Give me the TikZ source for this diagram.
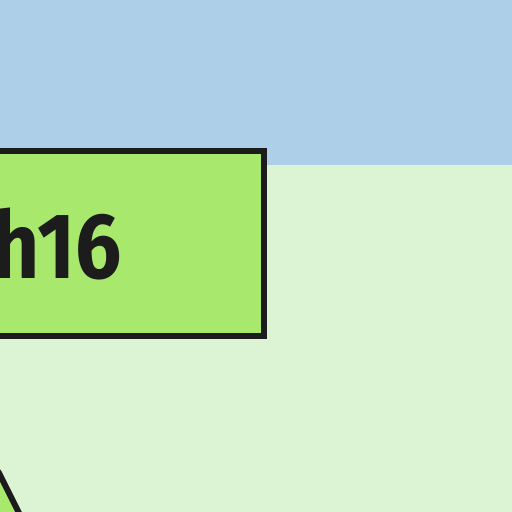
\documentclass[tikz,border=0pt]{standalone}
\usepackage{fontspec}
\newfontfamily\labelfont[FakeStretch=0.88]{Fira Sans}
\definecolor{skyband}{HTML}{AECFE8}
\definecolor{paleground}{HTML}{DCF4D3}
\definecolor{boxgreen}{HTML}{A8E86C}
\definecolor{edgeblack}{HTML}{1C1C1C}
\tikzset{
  greenbox/.style={draw=edgeblack, fill=boxgreen, line width=0.12cm},
  bigtext/.style={text=edgeblack, font=\labelfont\bfseries\fontsize{53}{60}\selectfont, inner sep=0pt}
}
\begin{document}
\begin{tikzpicture}[x=0.02cm, y=-0.02cm]
\useasboundingbox (0,0) rectangle (512,512);
\clip (0,0) rectangle (512,512);
\fill[skyband] (0,0) rectangle (512,165);
\fill[paleground] (0,165) rectangle (512,512);
\draw[greenbox] (-40,151) rectangle (264,336);
\node[bigtext, anchor=base east] (lbl) at (122,278) {h16};
\draw[greenbox] (-60,392) -- (-1,473) -- (40,555) -- (-60,555) -- cycle;
\end{tikzpicture}
\end{document}
